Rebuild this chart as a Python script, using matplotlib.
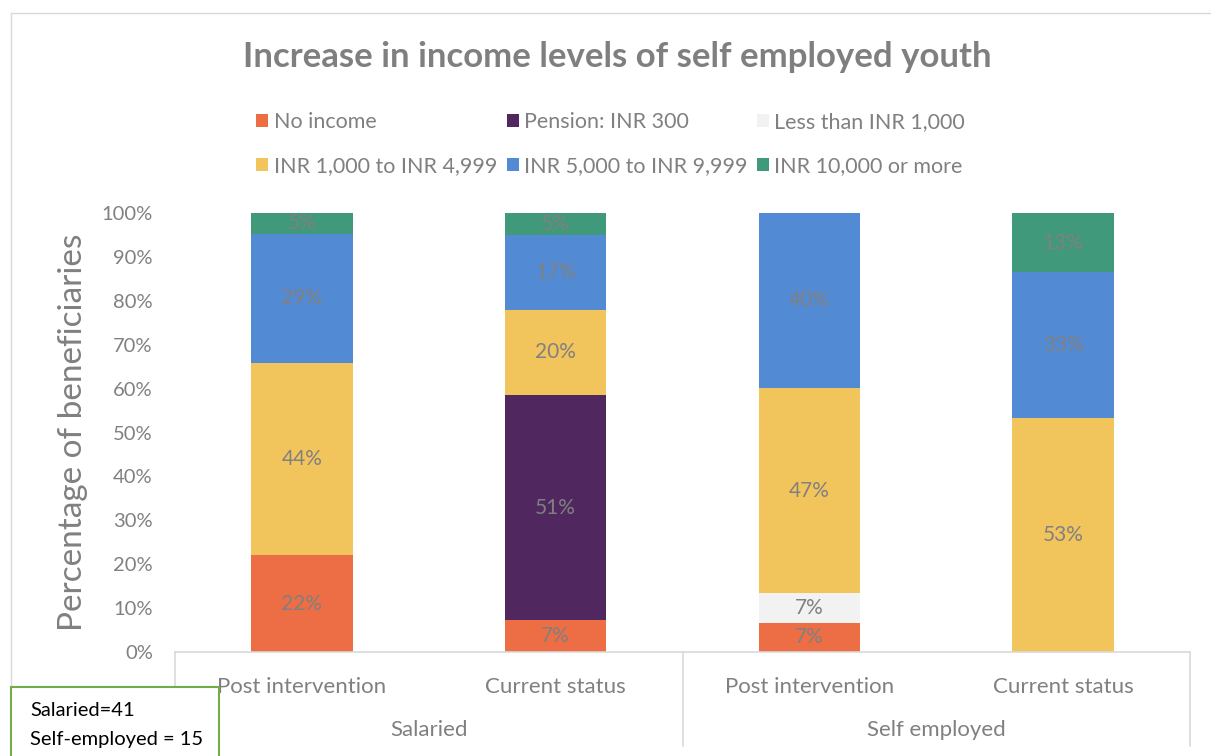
import matplotlib
matplotlib.use('Agg')
import matplotlib.pyplot as plt
from matplotlib.patches import Patch, Rectangle
from matplotlib.lines import Line2D
from matplotlib import transforms

plt.rcParams['font.family'] = ['Lato', 'DejaVu Sans']

bars = ['Post intervention', 'Current status', 'Post intervention', 'Current status']
groups = ['Salaried', 'Self employed']
series = ['No income', 'Pension: INR 300', 'Less than INR 1,000',
          'INR 1,000 to INR 4,999', 'INR 5,000 to INR 9,999', 'INR 10,000 or more']

no_income = [22.0, 7.3, 6.7, 0]
pension = [0, 51.2, 0, 0]
less_1000 = [0, 0, 6.7, 0]
inr_1k_5k = [43.9, 19.5, 46.7, 53.3]
inr_5k_10k = [29.3, 17.1, 40.0, 33.3]
inr_10k = [4.9, 4.9, 0, 13.3]

colors = ['#ED6D45', '#50285F', '#F2F2F2', '#F2C55C', '#528BD4', '#3F997A']
gray = '#808080'

W, H = 1211, 756
fig = plt.figure(figsize=(W / 100, H / 100), dpi=100)
ax = fig.add_axes([175 / W, 1 - 652 / H, (1190 - 175) / W, (652 - 213) / H])

x = list(range(len(bars)))
bottom = [0] * len(bars)
for vals, col, name in zip([no_income, pension, less_1000, inr_1k_5k, inr_5k_10k, inr_10k],
                           colors, series):
    ax.bar(x, vals, width=0.4, bottom=bottom, color=col, label=name)
    for xi, v, b in zip(x, vals, bottom):
        if v > 0:
            ax.text(xi, b + v / 2, f"{v:.0f}%", ha='center', va='center',
                    fontsize=15, color=gray)
    bottom = [b + v for b, v in zip(bottom, vals)]

ax.set_xlim(-0.5, 3.5)
ax.set_ylim(0, 100)
for s in ax.spines.values():
    s.set_visible(False)
ax.set_yticks(range(0, 101, 10))
ax.set_yticklabels([f"{t}%" for t in range(0, 101, 10)])
ax.tick_params(axis='y', length=0, pad=16, labelsize=14.5, labelcolor=gray)
ax.set_xticks(x)
ax.set_xticklabels(bars)
ax.tick_params(axis='x', length=0, pad=18, labelsize=16, labelcolor=gray)
ax.set_ylabel('Percentage of beneficiaries', fontsize=24, color=gray, labelpad=10)

# axis line and category separators
ax.axhline(0, color='#D9D9D9', lw=1.2, clip_on=False)
trans = transforms.blended_transform_factory(ax.transData, ax.transAxes)
for sx in [-0.5, 1.5, 3.5]:
    ax.plot([sx, sx], [0, -0.215], color='#D9D9D9', lw=1.2, transform=trans, clip_on=False)
for gi, g in enumerate(groups):
    ax.text(gi * 2 + 0.5, -0.178, g, ha='center', va='center', fontsize=16,
            color=gray, transform=trans)

# legend in row order
order = [0, 3, 1, 4, 2, 5]
handles = [Patch(facecolor=colors[i], edgecolor='none') for i in order]
labels = [series[i] for i in order]
fig.legend(handles, labels, ncol=3, frameon=False, fontsize=15.5, labelcolor=gray,
           loc='upper left', bbox_to_anchor=(237 / W, 1 - 93 / H),
           handlelength=0.55, handleheight=0.55, handletextpad=0.25,
           columnspacing=0.45, labelspacing=1.1)

fig.text(617 / W, 1 - 57 / H, 'Increase in income levels of self employed youth',
         ha='center', va='center', fontsize=25, fontweight='bold', color='#7F7F7F')

# chart border
fig.add_artist(Line2D([11 / W, 11 / W], [1 - 13 / H, 0], color='#D9D9D9', lw=1))
fig.add_artist(Line2D([11 / W, 1], [1 - 13 / H, 1 - 13 / H], color='#D9D9D9', lw=1))

# sample size box
fig.add_artist(Rectangle((11 / W, -0.01), (219 - 11) / W, (756 - 687) / H + 0.01,
                         facecolor='white', edgecolor='#70AD47', lw=1.5,
                         transform=fig.transFigure, zorder=5))
fig.text(30 / W, 1 - 711 / H, 'Salaried=41', fontsize=14.5, color='black',
         va='center', zorder=6)
fig.text(30 / W, 1 - 739 / H, 'Self-employed = 15', fontsize=14.5, color='black',
         va='center', zorder=6)

fig.savefig('out.png', dpi=100)
